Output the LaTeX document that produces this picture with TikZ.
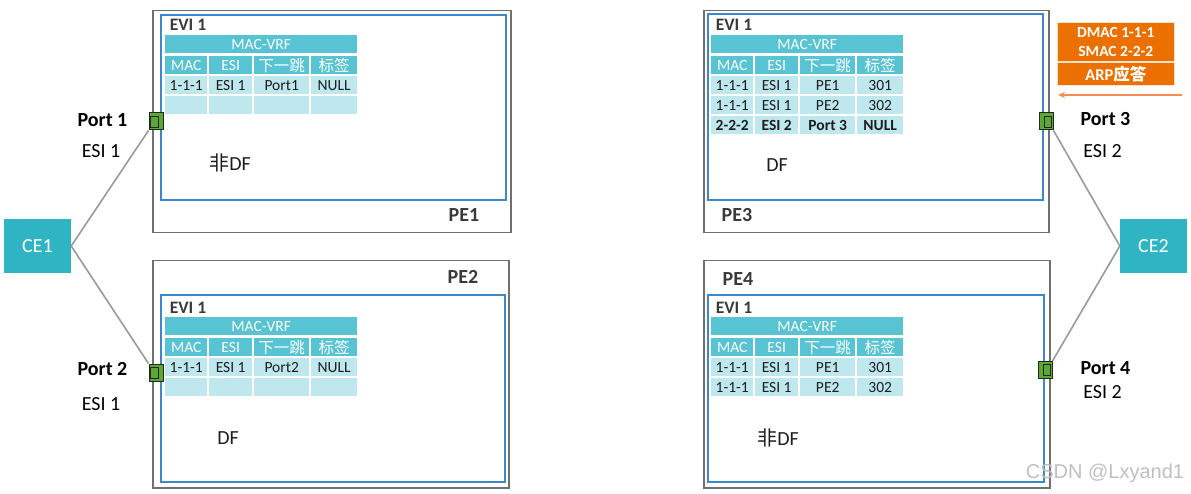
\documentclass[tikz,border=0pt]{standalone}
\usepackage{fontspec}
\setmainfont{Carlito}
\newfontfamily\cjk{Noto Sans CJK SC}
\newfontfamily\wmfont{Liberation Sans}
\usetikzlibrary{arrows.meta}
\definecolor{tealhdr}{HTML}{58C4D3}
\definecolor{tealrow}{HTML}{BEE8EE}
\definecolor{cebox}{HTML}{2EB4C3}
\definecolor{evblue}{HTML}{3C88CC}
\definecolor{pegray}{HTML}{707070}
\definecolor{portgreen}{HTML}{5BA832}
\definecolor{orangebox}{HTML}{EB7000}
\definecolor{orangearrow}{HTML}{F28D55}
\definecolor{linkgray}{HTML}{9A9A9A}
\definecolor{txt}{HTML}{1E1E1E}
\definecolor{lbl}{HTML}{3A3A3A}
\tikzset{
  pebox/.style={draw=pegray, line width=1.5pt, inner sep=0pt, anchor=north west},
  evibox/.style={draw=evblue, line width=2pt, inner sep=0pt, anchor=north west},
  cell/.style={inner sep=0pt, anchor=north west, minimum height=18, font=\fontsize{15.5}{16}\selectfont},
  thdr/.style={cell, fill=tealhdr, text=white},
  trow/.style={cell, fill=tealrow, text=txt},
  evilbl/.style={font=\fontsize{17.5}{18}\selectfont\bfseries, text=lbl, inner sep=0pt},
  pelbl/.style={font=\fontsize{20}{22}\selectfont\bfseries, text=lbl, inner sep=0pt},
  dflbl/.style={font=\fontsize{20}{22}\selectfont, text=txt, inner sep=0pt},
  portlbl/.style={font=\fontsize{20}{22}\selectfont\bfseries, text=black, inner sep=0pt},
  esilbl/.style={font=\fontsize{20}{22}\selectfont, text=black, inner sep=0pt},
  cenode/.style={fill=cebox, text=white, minimum width=67, minimum height=54, inner sep=0pt, font=\fontsize{20}{22}\selectfont},
  port/.style={fill=portgreen, draw=black!85, line width=1pt, minimum width=14, minimum height=17, inner sep=0pt},
  portL/.style={port, path picture={\draw[line width=0.8pt, black!85] ([xshift=1.5pt,yshift=-3pt]path picture bounding box.north west) rectangle ([xshift=-5pt,yshift=3pt]path picture bounding box.south east);}},
  portR/.style={port, path picture={\draw[line width=0.8pt, black!85] ([xshift=5pt,yshift=-3pt]path picture bounding box.north west) rectangle ([xshift=-1.5pt,yshift=3pt]path picture bounding box.south east);}},
  link/.style={draw=linkgray, line width=1.6pt},
  obox/.style={fill=orangebox, text=white, draw=white!80!orangebox, line width=0.6pt, inner sep=0pt, anchor=north west, minimum width=117, font=\fontsize{15.5}{19}\selectfont\bfseries, align=center},
}
\newcommand\mvhead[3]{%
  \node[thdr, minimum width=192] (#1h) at (#2,#3) {MAC-VRF};
  \node[thdr, minimum width=42] (#1ca) at (#2,#3+21) {MAC};
  \node[thdr, minimum width=43] (#1cb) at (#2+44,#3+21) {ESI};
  \node[thdr, minimum width=55] (#1cc) at (#2+89,#3+21) {\cjk 下一跳};
  \node[thdr, minimum width=46] (#1cd) at (#2+146,#3+21) {\cjk 标签};
}
\newcommand\mvrow[8]{%
  \node[trow, minimum width=42] (#1#2a) at (#3,#4) {#5};
  \node[trow, minimum width=43] (#1#2b) at (#3+44,#4) {#6};
  \node[trow, minimum width=55] (#1#2c) at (#3+89,#4) {#7};
  \node[trow, minimum width=46] (#1#2d) at (#3+146,#4) {#8};
}
\begin{document}
\begin{tikzpicture}[x=1pt,y=-1pt]
\useasboundingbox (0,0) rectangle (1191,494);
% PE boxes
\node[pebox, minimum width=358, minimum height=222] (pe1) at (152,10) {};
\node[pebox, minimum width=356, minimum height=227] (pe2) at (152,260) {};
\node[pebox, minimum width=345, minimum height=222] (pe3) at (703,10) {};
\node[pebox, minimum width=346, minimum height=227] (pe4) at (703,260) {};
% EVI boxes
\node[evibox, minimum width=345, minimum height=185] (evi1) at (160,14) {};
\node[evibox, minimum width=344, minimum height=187] (evi2) at (160,294) {};
\node[evibox, minimum width=335, minimum height=186] (evi3) at (707,13) {};
\node[evibox, minimum width=336, minimum height=187] (evi4) at (707,294) {};
% PE labels
\node[pelbl] (pe1l) at (464,215) {PE1};
\node[pelbl] (pe2l) at (463,277) {PE2};
\node[pelbl] (pe3l) at (737,215) {PE3};
\node[pelbl] (pe4l) at (738,279) {PE4};
% EVI labels
\node[evilbl] (e1l) at (188,25) {EVI 1};
\node[evilbl] (e2l) at (188,308) {EVI 1};
\node[evilbl] (e3l) at (734,25) {EVI 1};
\node[evilbl] (e4l) at (734,308) {EVI 1};
% Tables
\mvhead{ta}{165}{35}
\mvrow{ta}{r1}{165}{76}{1-1-1}{ESI 1}{Port1}{NULL}
\mvrow{ta}{r2}{165}{96}{}{}{}{}
\mvhead{tb}{165}{317}
\mvrow{tb}{r1}{165}{358}{1-1-1}{ESI 1}{Port2}{NULL}
\mvrow{tb}{r2}{165}{378}{}{}{}{}
\mvhead{tc}{711}{35}
\mvrow{tc}{r1}{711}{76}{1-1-1}{ESI 1}{PE1}{301}
\mvrow{tc}{r2}{711}{96}{1-1-1}{ESI 1}{PE2}{302}
\mvrow{tc}{r3}{711}{116}{\bfseries 2-2-2}{\bfseries ESI 2}{\bfseries Port 3}{\bfseries NULL}
\mvhead{td}{711}{317}
\mvrow{td}{r1}{711}{358}{1-1-1}{ESI 1}{PE1}{301}
\mvrow{td}{r2}{711}{378}{1-1-1}{ESI 1}{PE2}{302}
% DF labels
\node[dflbl] (df1) at (230,163) {{\cjk 非}DF};
\node[dflbl] (df2) at (228,438) {DF};
\node[dflbl] (df3) at (777,165) {DF};
\node[dflbl] (df4) at (778,438) {{\cjk 非}DF};
% CE nodes
\node[cenode] (ce1) at (37.5,246) {CE1};
\node[cenode] (ce2) at (1153.5,246) {CE2};
% ports
\node[portL] (p1) at (156,121.5) {};
\node[portL] (p2) at (156,372.5) {};
\node[portR] (p3) at (1046,121.5) {};
\node[portR] (p4) at (1045,370) {};
% links
\draw[link] (ce1.east) -- (p1.south west);
\draw[link] (ce1.east) -- (p2.north west);
\draw[link] (ce2.west) -- (p3.south east);
\draw[link] (ce2.west) -- (p4.north east);
% port labels
\node[portlbl] (p1l) at (102.5,120) {Port 1};
\node[esilbl] (p1e) at (101,151) {ESI 1};
\node[portlbl] (p2l) at (102.5,369.5) {Port 2};
\node[esilbl] (p2e) at (101,404) {ESI 1};
\node[portlbl] (p3l) at (1105.5,119.5) {Port 3};
\node[esilbl] (p3e) at (1102.5,151) {ESI 2};
\node[portlbl] (p4l) at (1105.5,368.5) {Port 4};
\node[esilbl] (p4e) at (1102.5,392) {ESI 2};
% orange packet
\node[obox, minimum height=39] (pk1) at (1057,22) {DMAC 1-1-1\\SMAC 2-2-2};
\node[obox, minimum height=23, font=\fontsize{16.5}{18}\selectfont\bfseries] (pk2) at (1057,62) {ARP{\cjk\bfseries 应答}};
\coordinate (arS) at (1182,95);
\coordinate (arE) at (1058,95);
\draw[draw=orangearrow, line width=1.5pt, -{Stealth[length=7pt,width=6pt]}] (arS) -- (arE);
% watermark
\node[font=\wmfont\fontsize{20}{22}\selectfont, text=black!25, inner sep=0pt] (wm) at (1105,473) {CSDN @Lxyand1};
\end{tikzpicture}
\end{document}
